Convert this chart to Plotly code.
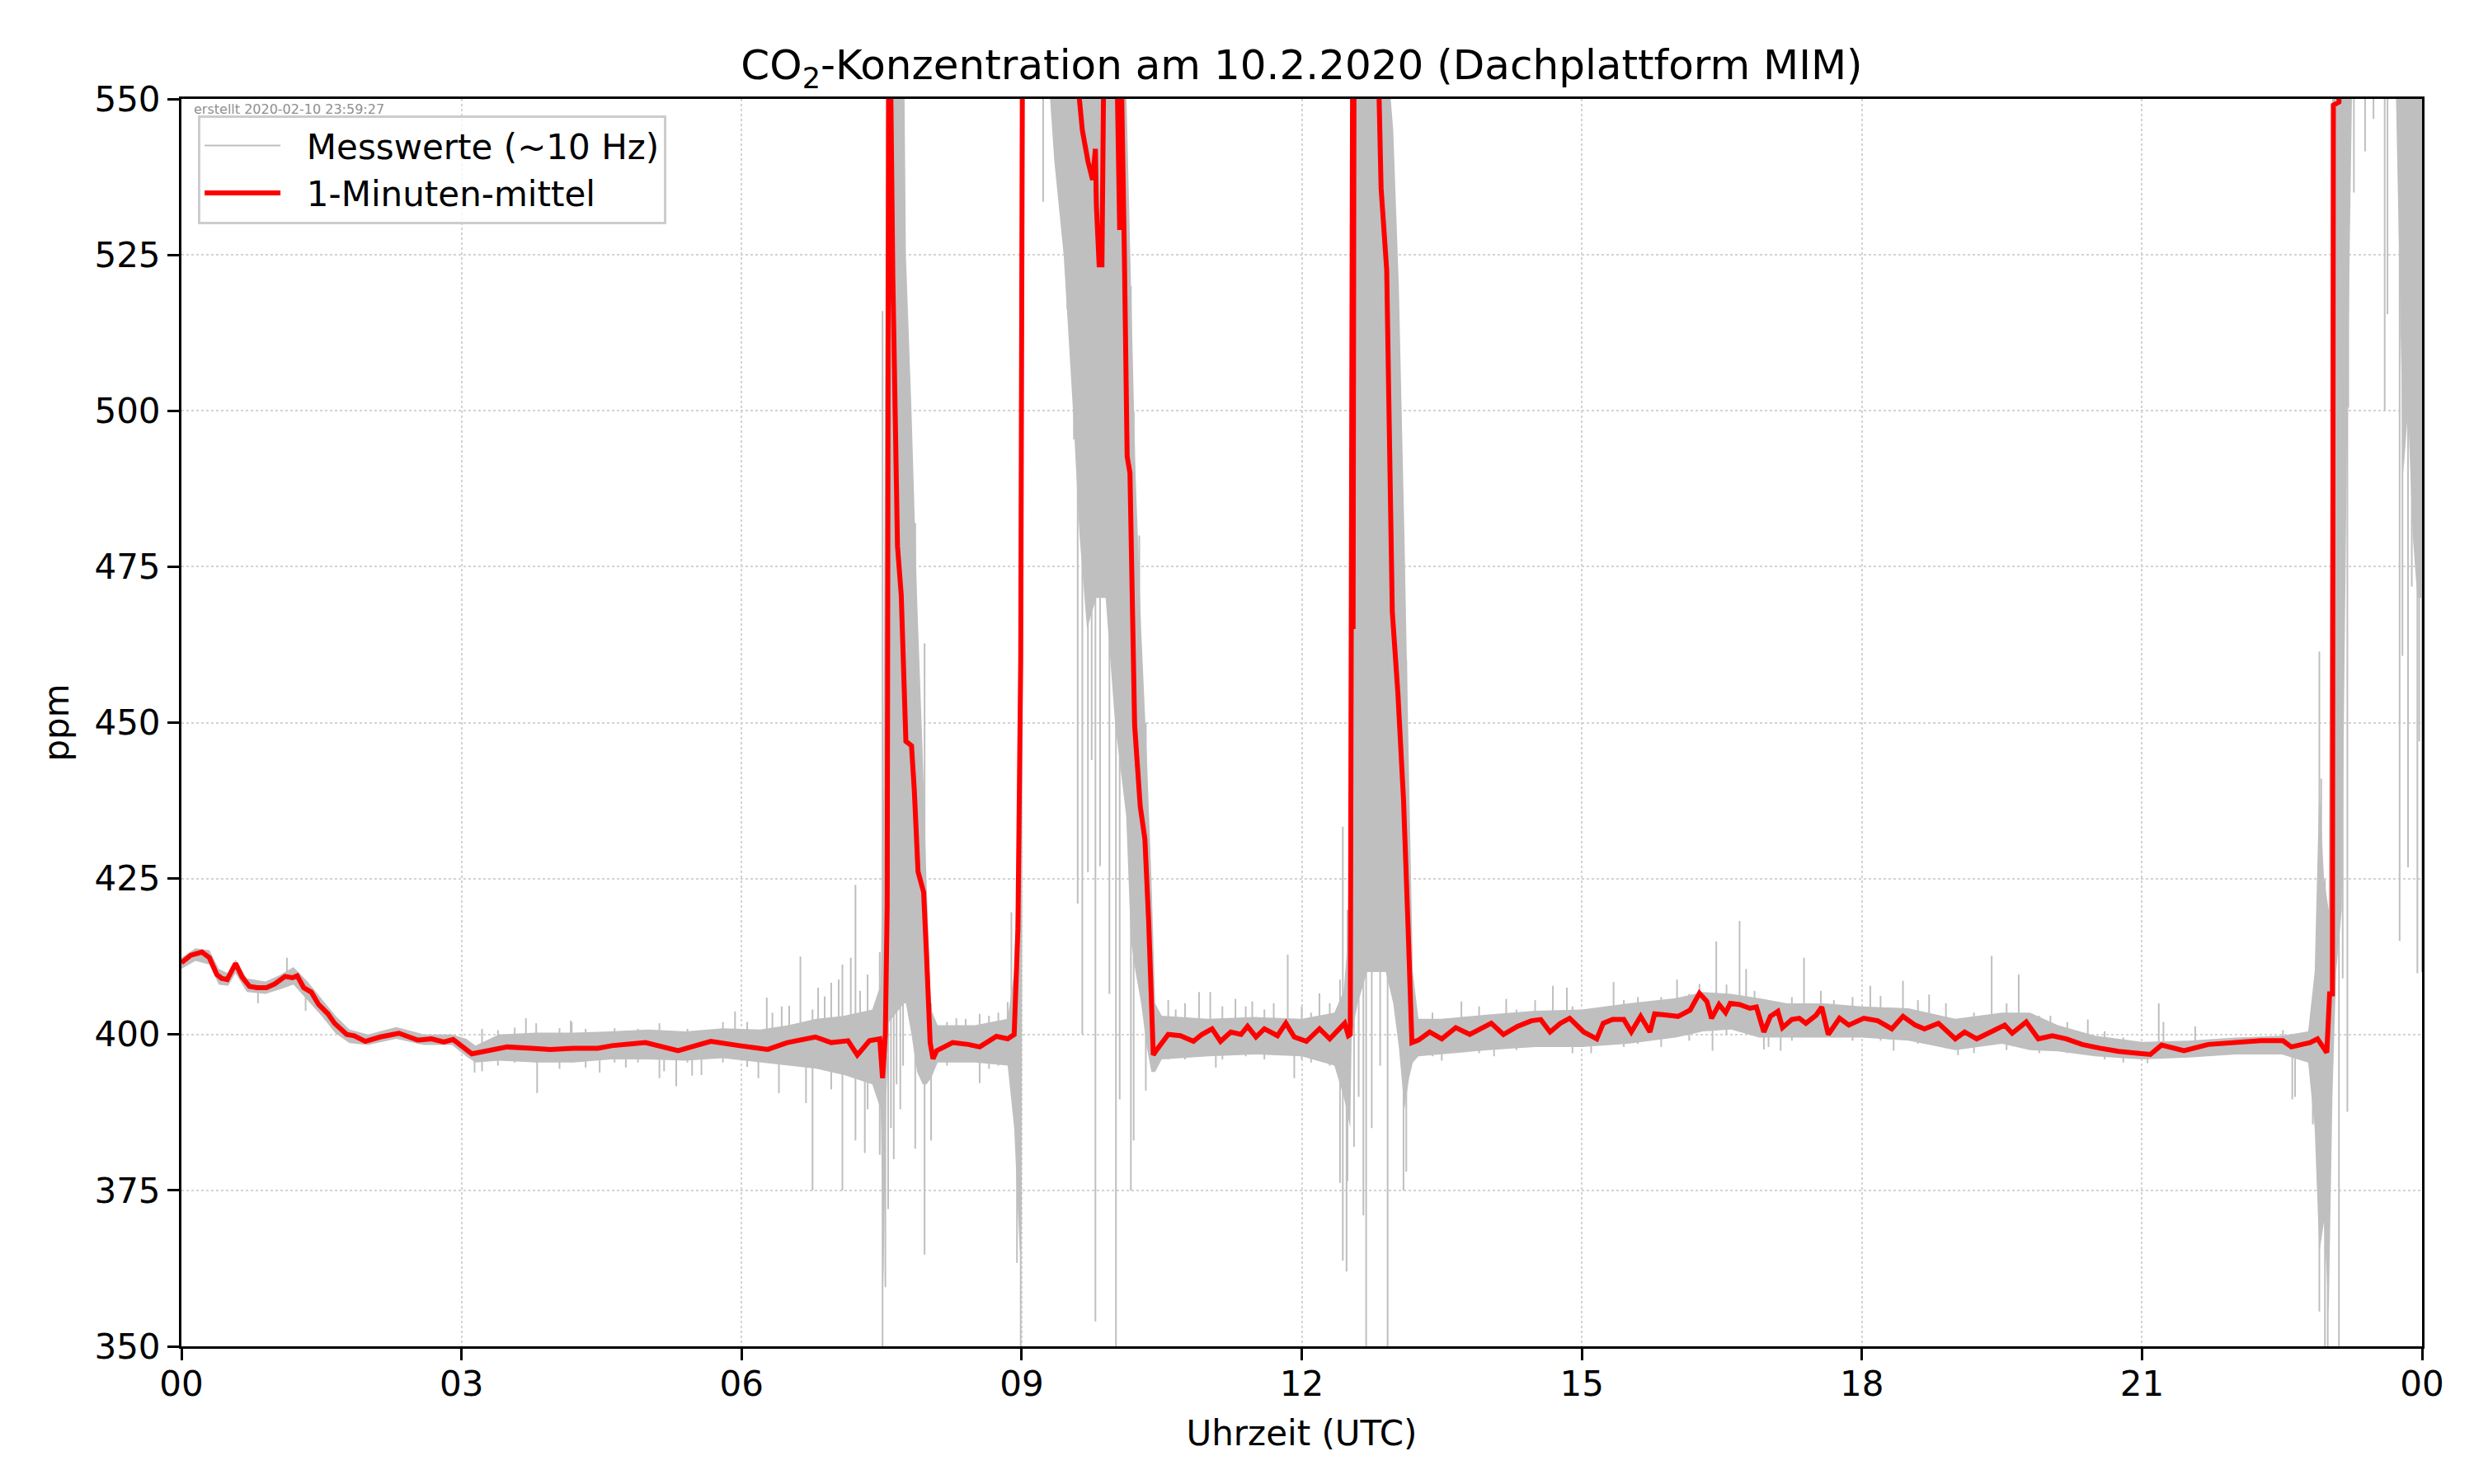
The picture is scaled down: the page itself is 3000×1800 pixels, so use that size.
import plotly.graph_objects as go

# ---------------- data (hours UTC, ppm) ----------------
# 1-minute mean (red)
red_t = [0.00, 0.10, 0.22, 0.30, 0.38, 0.43, 0.49, 0.58, 0.65, 0.73, 0.81, 0.91, 1.00, 1.11, 1.19, 1.24,
         1.31, 1.39, 1.47, 1.57, 1.64, 1.77, 1.85, 1.97, 2.13, 2.33, 2.53, 2.68, 2.81, 2.91, 3.11, 3.34,
         3.49, 3.75, 3.95, 4.20, 4.46, 4.61, 4.97, 5.32, 5.67, 5.98, 6.28, 6.49, 6.79, 6.96, 7.14, 7.24,
         7.37, 7.48, 7.51, 7.54, 7.56, 7.575, 7.595, 7.62, 7.65, 7.67, 7.71, 7.76, 7.82, 7.85, 7.89, 7.95,
         7.98, 8.02, 8.05, 8.09, 8.17, 8.26, 8.43, 8.55, 8.73, 8.85, 8.92, 8.96, 8.99, 9.01, 9.30, 9.60,
         9.65, 9.71, 9.76, 9.79, 9.80, 9.83, 9.86, 9.88, 10.02, 10.05, 10.07, 10.10, 10.13, 10.16, 10.19, 10.21,
         10.27, 10.32, 10.36, 10.41, 10.44, 10.57, 10.70, 10.84, 10.93, 11.04, 11.13, 11.24, 11.35, 11.42, 11.51, 11.60,
         11.74, 11.83, 11.92, 12.05, 12.19, 12.30, 12.46, 12.50, 12.52, 12.535, 12.545, 12.55, 12.56, 12.82, 12.85, 12.91,
         12.94, 12.97, 13.03, 13.09, 13.14, 13.18, 13.25, 13.37, 13.50, 13.65, 13.80, 13.91, 14.03, 14.16, 14.31, 14.46,
         14.56, 14.66, 14.77, 14.87, 15.02, 15.16, 15.23, 15.33, 15.45, 15.53, 15.63, 15.73, 15.78, 15.91, 16.03, 16.16,
         16.26, 16.34, 16.39, 16.47, 16.54, 16.59, 16.69, 16.80, 16.87, 16.95, 17.02, 17.10, 17.15, 17.25, 17.33, 17.40,
         17.51, 17.57, 17.64, 17.76, 17.86, 18.02, 18.17, 18.32, 18.44, 18.57, 18.67, 18.82, 19.00, 19.10, 19.23, 19.38,
         19.53, 19.61, 19.76, 19.89, 20.04, 20.19, 20.36, 20.55, 20.75, 20.95, 21.09, 21.21, 21.45, 21.71, 21.98, 22.27,
         22.51, 22.60, 22.80, 22.88, 22.98, 23.01, 23.04, 23.05, 23.11, 23.13, 24.00]
red_v = [411.5, 412.7, 413.2, 412.3, 409.6, 409.0, 408.8, 411.4, 409.2, 407.7, 407.5, 407.5, 408.1, 409.3, 409.1, 409.4,
         407.5, 406.8, 404.8, 403.3, 401.8, 400.0, 399.8, 398.9, 399.6, 400.2, 399.1, 399.3, 398.8, 399.2, 396.9, 397.6,
         398.0, 397.8, 397.6, 397.8, 397.8, 398.2, 398.7, 397.4, 398.9, 398.2, 397.6, 398.7, 399.6, 398.7, 399.0, 396.7,
         399.0, 399.3, 393.0, 400.0, 421.0, 556.0, 556.0, 521.4, 499.2, 478.3, 470.5, 447.0, 446.3, 439.2, 426.1, 422.8,
         413.0, 398.7, 396.1, 397.4, 398.0, 398.7, 398.4, 398.0, 399.7, 399.3, 400.0, 417.0, 460.0, 565.0, 600.0, 552.0,
         545.0, 540.0, 537.0, 542.0, 533.0, 523.4, 523.4, 556.0, 556.0, 529.0, 552.0, 525.3, 492.7, 490.0, 457.4, 449.6,
         436.6, 431.3, 418.3, 396.7, 397.4, 400.0, 399.8, 398.9, 400.0, 400.9, 398.9, 400.4, 400.0, 401.3, 399.6, 400.9,
         399.8, 401.8, 399.6, 398.9, 400.9, 399.3, 401.8, 399.8, 400.0, 500.5, 556.0, 465.0, 556.0, 556.0, 535.7, 522.6,
         497.8, 467.8, 454.7, 437.7, 416.8, 398.7, 399.1, 400.4, 399.3, 401.1, 400.0, 400.9, 401.8, 400.0, 401.3, 402.2,
         402.4, 400.4, 401.8, 402.6, 400.4, 399.3, 401.8, 402.4, 402.4, 400.4, 402.9, 400.4, 403.3, 403.1, 402.9, 403.9,
         406.6, 405.3, 402.6, 404.8, 403.5, 405.0, 404.8, 404.2, 404.4, 400.4, 402.9, 403.7, 401.1, 402.4, 402.6, 401.8,
         403.1, 404.4, 400.0, 402.6, 401.5, 402.6, 402.2, 400.9, 402.9, 401.5, 400.9, 401.8, 399.3, 400.4, 399.3, 400.4,
         401.5, 400.2, 402.0, 399.3, 399.8, 399.3, 398.4, 397.8, 397.3, 397.0, 396.8, 398.3, 397.4, 398.4, 398.7, 399.0,
         399.0, 398.0, 398.7, 399.3, 397.1, 406.5, 406.5, 549.0, 549.5, 575.0, 600.0]

# raw 10 Hz measurements (grey): typical band (low / high) ...
env_t = [0.00, 0.15, 0.30, 0.40, 0.50, 0.58, 0.70, 0.90, 1.05, 1.20, 1.35, 1.50, 1.65, 1.80, 2.00, 2.30,
         2.60, 2.90, 3.05, 3.15, 3.40, 3.80, 4.20, 4.60, 5.00, 5.40, 5.80, 6.20, 6.50, 6.80, 7.10, 7.40,
         7.49, 7.52, 7.55, 7.58, 7.74, 7.76, 7.82, 7.88, 7.94, 7.98, 8.03, 8.10, 8.50, 8.85, 8.92, 8.98,
         9.00, 9.02, 9.30, 9.35, 9.45, 9.55, 9.62, 9.70, 9.80, 9.90, 10.00, 10.08, 10.12, 10.17, 10.22, 10.28,
         10.34, 10.39, 10.43, 10.50, 11.00, 11.50, 12.00, 12.35, 12.45, 12.52, 12.535, 12.60, 12.70, 12.80, 12.90, 12.98,
         13.04, 13.10, 13.15, 13.19, 13.25, 13.50, 14.00, 14.50, 15.00, 15.50, 16.00, 16.30, 16.60, 16.90, 17.20, 17.60,
         18.00, 18.50, 19.00, 19.50, 19.80, 20.10, 20.50, 21.00, 21.50, 22.00, 22.50, 22.78, 22.85, 22.90, 22.95, 23.00,
         23.04, 23.08, 23.14, 23.20, 23.25, 23.72, 23.76, 23.80, 23.85, 23.90, 23.95, 24.00]
env_lo = [410.5, 411.8, 411.2, 408.0, 407.8, 409.8, 406.8, 406.5, 407.2, 408.0, 405.5, 403.0, 400.2, 398.6, 398.3, 399.3,
          398.3, 398.3, 396.5, 395.5, 395.8, 395.5, 395.5, 396.0, 396.0, 395.8, 396.2, 395.5, 395.0, 394.5, 393.5, 392.0,
          388.0, 360.0, 390.0, 402.0, 405.0, 405.0, 400.0, 394.0, 392.0, 392.0, 393.0, 395.5, 395.5, 395.0, 385.0, 365.0,
          370.0, 551.0, 551.0, 540.0, 525.0, 500.0, 480.0, 465.0, 470.0, 470.0, 450.0, 440.0, 435.0, 415.0, 410.0, 405.0,
          398.0, 394.0, 394.0, 396.0, 396.5, 396.8, 396.5, 395.0, 390.0, 385.0, 400.0, 405.0, 410.0, 410.0, 410.0, 405.0,
          398.0, 388.0, 393.0, 395.5, 396.5, 396.8, 397.5, 398.0, 398.0, 398.5, 399.5, 400.5, 400.8, 399.5, 399.5, 399.5,
          399.5, 399.0, 397.5, 398.5, 397.5, 397.3, 396.5, 396.0, 396.3, 396.8, 396.8, 395.5, 385.0, 365.0, 370.0, 355.0,
          390.0, 410.0, 420.0, 500.0, 551.0, 551.0, 520.0, 490.0, 500.0, 480.0, 470.0, 470.0]
env_hi = [412.3, 413.8, 413.5, 410.5, 409.8, 412.0, 409.0, 408.5, 409.5, 410.8, 408.5, 405.8, 403.0, 400.8, 400.0, 401.2,
          400.0, 400.0, 399.3, 398.2, 400.0, 400.3, 400.3, 400.5, 400.8, 400.5, 401.0, 400.8, 401.5, 402.5, 403.0, 404.0,
          408.0, 440.0, 550.0, 560.0, 560.0, 525.0, 500.0, 470.0, 445.0, 425.0, 404.0, 401.5, 401.5, 402.5, 410.0, 440.0,
          450.0, 560.0, 560.0, 560.0, 560.0, 560.0, 560.0, 560.0, 560.0, 560.0, 560.0, 560.0, 552.0, 520.0, 490.0, 465.0,
          445.0, 425.0, 405.0, 403.0, 402.5, 402.8, 402.5, 403.5, 407.0, 420.0, 560.0, 560.0, 560.0, 560.0, 560.0, 545.0,
          520.0, 480.0, 440.0, 410.0, 402.5, 402.5, 403.2, 403.8, 404.0, 405.0, 405.8, 406.8, 406.5, 405.8, 405.0, 405.0,
          404.5, 404.2, 402.5, 403.5, 403.5, 401.5, 399.8, 398.8, 399.0, 399.5, 399.8, 400.5, 410.0, 440.0, 425.0, 420.0,
          560.0, 560.0, 560.0, 560.0, 560.0, 560.0, 560.0, 560.0, 560.0, 560.0, 560.0, 560.0]

# ... the large excursions (spikes) of the raw signal: time, low end, high end
spike_t = [0.82, 1.13, 1.33, 3.14, 3.69, 3.81, 4.17, 4.48, 5.12, 5.30, 5.57, 5.93, 6.27, 6.40, 6.51, 6.63,
           6.76, 6.82, 6.96, 7.08, 7.17, 7.22, 7.35, 7.48, 7.51, 7.54, 7.86, 7.96, 8.03, 8.30, 8.55, 8.85,
           8.89, 8.95, 8.99, 9.23, 9.49, 9.56, 9.60, 9.65, 9.71, 9.75, 9.79, 9.84, 9.94, 10.01, 10.05, 10.17,
           10.20, 10.26, 10.33, 10.57, 10.90, 11.02, 11.08, 11.29, 11.47, 11.85, 11.92, 12.19, 12.41, 12.44, 12.48, 12.49,
           12.66, 12.69, 12.92, 13.09, 13.12, 13.50, 13.71, 14.06, 14.19, 14.69, 14.84, 15.34, 16.02, 16.26, 16.40, 16.44,
           16.69, 16.76, 16.95, 17.13, 17.38, 17.56, 18.09, 18.34, 18.44, 18.72, 19.03, 19.39, 19.68, 20.02, 20.42, 21.06,
           21.18, 21.23, 21.57, 22.51, 22.61, 22.64, 22.83, 22.87, 22.90, 22.92, 22.96, 22.99, 23.11, 23.15, 23.20, 23.21,
           23.27, 23.39, 23.48, 23.60, 23.63, 23.76, 23.79, 23.85, 23.89, 23.91, 23.95, 23.97, 24.00,
           7.57, 7.60, 7.63, 7.66, 7.70, 7.73, 12.56, 12.61, 12.75, 12.84]
spike_lo = [405.0, 409.0, 403.8, 393.9, 397.0, 390.6, 397.0, 393.9, 393.0, 391.7, 393.5, 397.0, 397.0, 390.6, 398.0, 398.0,
            375.0, 396.0, 391.2, 375.0, 395.0, 383.0, 388.0, 380.7, 350.0, 359.5, 381.7, 364.7, 383.0, 396.0, 392.2, 396.0,
            395.0, 363.4, 350.0, 533.5, 516.3, 495.4, 421.0, 400.0, 426.0, 444.0, 354.0, 427.0, 406.5, 350.0, 389.6, 375.0,
            383.0, 410.0, 391.0, 396.0, 398.0, 398.0, 394.7, 398.0, 398.0, 398.0, 393.0, 398.0, 376.2, 363.7, 362.0, 376.5,
            371.0, 350.0, 350.0, 375.0, 378.0, 395.8, 398.0, 396.5, 398.0, 399.0, 399.0, 399.0, 400.0, 401.0, 397.4, 401.0,
            401.0, 401.0, 397.6, 397.4, 400.0, 400.0, 400.0, 397.4, 400.0, 399.0, 396.7, 399.0, 399.0, 398.0, 397.5, 395.4,
            397.0, 397.0, 397.0, 397.0, 389.6, 390.0, 385.6, 386.0, 355.6, 378.5, 350.0, 350.0, 350.0, 409.0, 387.6, 500.5,
            535.0, 541.6, 546.8, 500.0, 515.5, 415.0, 460.7, 426.8, 471.8, 507.0, 409.8, 447.0, 410.0,
            372.0, 385.0, 380.0, 392.0, 388.0, 395.0, 382.0, 390.0, 385.0, 395.0]
spike_hi = [408.0, 412.3, 407.5, 398.0, 402.6, 397.0, 402.2, 398.0, 401.8, 397.0, 398.0, 403.7, 405.9, 398.0, 404.6, 412.5,
            404.0, 407.5, 408.3, 411.2, 412.3, 424.0, 409.6, 413.2, 516.0, 430.0, 482.0, 462.7, 405.0, 402.6, 403.3, 405.2,
            419.6, 421.0, 444.0, 560.0, 560.0, 560.0, 560.0, 560.0, 560.0, 560.0, 560.0, 560.0, 560.0, 560.0, 540.0, 520.0,
            500.0, 480.0, 450.0, 405.5, 406.8, 406.8, 401.0, 405.7, 405.3, 412.8, 401.0, 406.6, 408.8, 433.3, 410.0, 420.0,
            560.0, 560.0, 560.0, 470.0, 460.0, 401.0, 405.3, 402.0, 405.7, 407.8, 407.5, 408.4, 408.8, 408.1, 404.0, 414.9,
            418.2, 410.5, 403.0, 403.0, 412.3, 407.0, 407.8, 402.0, 408.6, 406.4, 401.0, 412.6, 409.6, 403.0, 402.4, 398.5,
            405.0, 402.0, 401.3, 400.7, 399.0, 399.0, 405.2, 404.0, 461.4, 441.0, 424.8, 410.0, 560.0, 560.0, 560.0, 560.0,
            560.0, 560.0, 560.0, 560.0, 560.0, 560.0, 560.0, 560.0, 560.0, 560.0, 560.0, 560.0, 560.0,
            430.0, 420.0, 430.0, 420.0, 425.0, 420.0, 430.0, 420.0, 420.0, 420.0]

# ... and the smaller noise hairs of the raw signal: time, low end, high end
hair_t = [3.22, 3.39, 3.57, 3.80, 4.05, 4.18, 4.33, 4.64, 4.76, 4.89, 5.17, 5.42, 5.47, 5.80, 6.06, 6.18,
          6.33, 6.43, 6.69, 6.89, 7.04, 7.27, 7.32, 8.20, 8.40, 8.65, 8.75, 10.65, 10.75, 11.15, 11.40, 11.60,
          11.70, 12.00, 12.10, 12.30, 13.40, 13.90, 14.30, 14.50, 14.90, 15.10, 15.45, 15.60, 15.85, 16.15, 16.55, 16.85,
          17.00, 17.25, 17.70, 17.90, 18.20, 18.60, 18.90, 19.20, 19.55, 19.90, 20.20, 20.60, 20.80]
hair_lo = [394.1, 395.0, 395.5, 395.5, 394.5, 395.5, 394.7, 395.5, 394.7, 395.5, 394.1, 395.5, 393.4, 395.5, 394.8, 393.0,
           395.5, 395.5, 389.0, 395.0, 395.0, 395.0, 381.0, 395.0, 395.5, 394.5, 395.0, 396.5, 396.0, 396.0, 396.5, 396.0,
           397.0, 396.0, 395.5, 395.0, 396.5, 397.0, 397.5, 398.0, 397.0, 397.0, 398.0, 398.5, 398.0, 399.0, 400.0, 400.0,
           398.0, 399.0, 399.5, 399.0, 399.0, 398.5, 397.8, 397.0, 397.5, 397.0, 397.0, 396.0, 395.5]
hair_hi = [400.9, 400.7, 401.1, 401.8, 401.0, 402.0, 400.9, 401.0, 400.5, 400.9, 400.5, 400.9, 400.5, 402.0, 402.0, 400.5,
           403.5, 404.5, 401.0, 406.1, 408.8, 407.0, 402.0, 402.0, 402.5, 403.0, 403.5, 404.0, 405.0, 404.5, 404.5, 404.0,
           405.0, 404.5, 403.5, 405.0, 403.5, 404.5, 404.0, 405.5, 404.5, 404.0, 405.5, 406.0, 406.0, 406.5, 408.0, 407.0,
           405.0, 406.0, 405.5, 406.0, 406.2, 405.5, 405.0, 403.5, 405.0, 403.0, 402.0, 400.5, 399.5]

x_tickvals = [0, 3, 6, 9, 12, 15, 18, 21, 24]
x_ticktext = ["00", "03", "06", "09", "12", "15", "18", "21", "00"]
y_tickvals = [350, 375, 400, 425, 450, 475, 500, 525, 550]

# ---------------- figure ----------------
FONT = "DejaVu Sans"
GREY = "#bfbfbf"
FS = 42

fig = go.Figure()

# grey band of the raw signal
band_x = env_t + env_t[::-1]
band_y = env_hi + env_lo[::-1]
fig.add_trace(go.Scatter(x=band_x, y=band_y, mode="lines", fill="toself",
                         fillcolor=GREY, line=dict(width=0, color=GREY),
                         hoverinfo="skip", showlegend=False))

# grey spikes / hairs of the raw signal
sx, sy = [], []
for t, lo, hi in zip(spike_t + hair_t, spike_lo + hair_lo, spike_hi + hair_hi):
    sx += [t, t, None]
    sy += [lo, hi, None]
fig.add_trace(go.Scatter(x=sx, y=sy, mode="lines", line=dict(color=GREY, width=2),
                         name="\u00a0\u00a0Messwerte (~10 Hz)"))

# 1-minute mean
fig.add_trace(go.Scatter(x=red_t, y=red_v, mode="lines", line=dict(color="#ff0000", width=6),
                         name="\u00a0\u00a01-Minuten-mittel"))

axis_common = dict(showline=True, linecolor="black", linewidth=3, mirror=True,
                   ticks="outside", ticklen=14, tickwidth=3, tickcolor="black",
                   showgrid=True, gridcolor="#d3d3d3", gridwidth=2, griddash="dot",
                   zeroline=False, tickfont=dict(family=FONT, size=FS, color="black"))

fig.update_xaxes(range=[0, 24], tickvals=x_tickvals, ticktext=x_ticktext, ticklabelstandoff=-7,
                 title=dict(text="Uhrzeit (UTC)", font=dict(family=FONT, size=FS, color="black"), standoff=22),
                 **axis_common)
fig.update_yaxes(range=[350, 550], tickvals=y_tickvals,
                 title=dict(text="ppm", font=dict(family=FONT, size=FS, color="black"), standoff=18),
                 **axis_common)

fig.update_layout(
    width=3000, height=1800,
    margin=dict(l=212, r=71, t=112, b=175),
    paper_bgcolor="white", plot_bgcolor="white",
    font=dict(family=FONT, size=FS, color="black"),
    title=dict(text="CO<sub>2</sub>-Konzentration am 10.2.2020 (Dachplattform MIM)",
               x=0.5235, xanchor="center", y=0.9606, yanchor="middle",
               font=dict(family=FONT, size=50, color="black")),
    legend=dict(x=0.0074, y=0.987, xanchor="left", yanchor="top",
                bgcolor="rgba(255,255,255,0.8)", bordercolor="#cccccc", borderwidth=3,
                font=dict(family=FONT, size=FS, color="black"), itemwidth=92,
                tracegroupgap=10),
    annotations=[dict(text="erstellt 2020-02-10 23:59:27", xref="paper", yref="paper",
                      x=0.0048, y=0.992, xanchor="left", yanchor="middle", showarrow=False,
                      font=dict(family=FONT, size=16, color="#909090"))],
)

fig.write_html("out.html")
